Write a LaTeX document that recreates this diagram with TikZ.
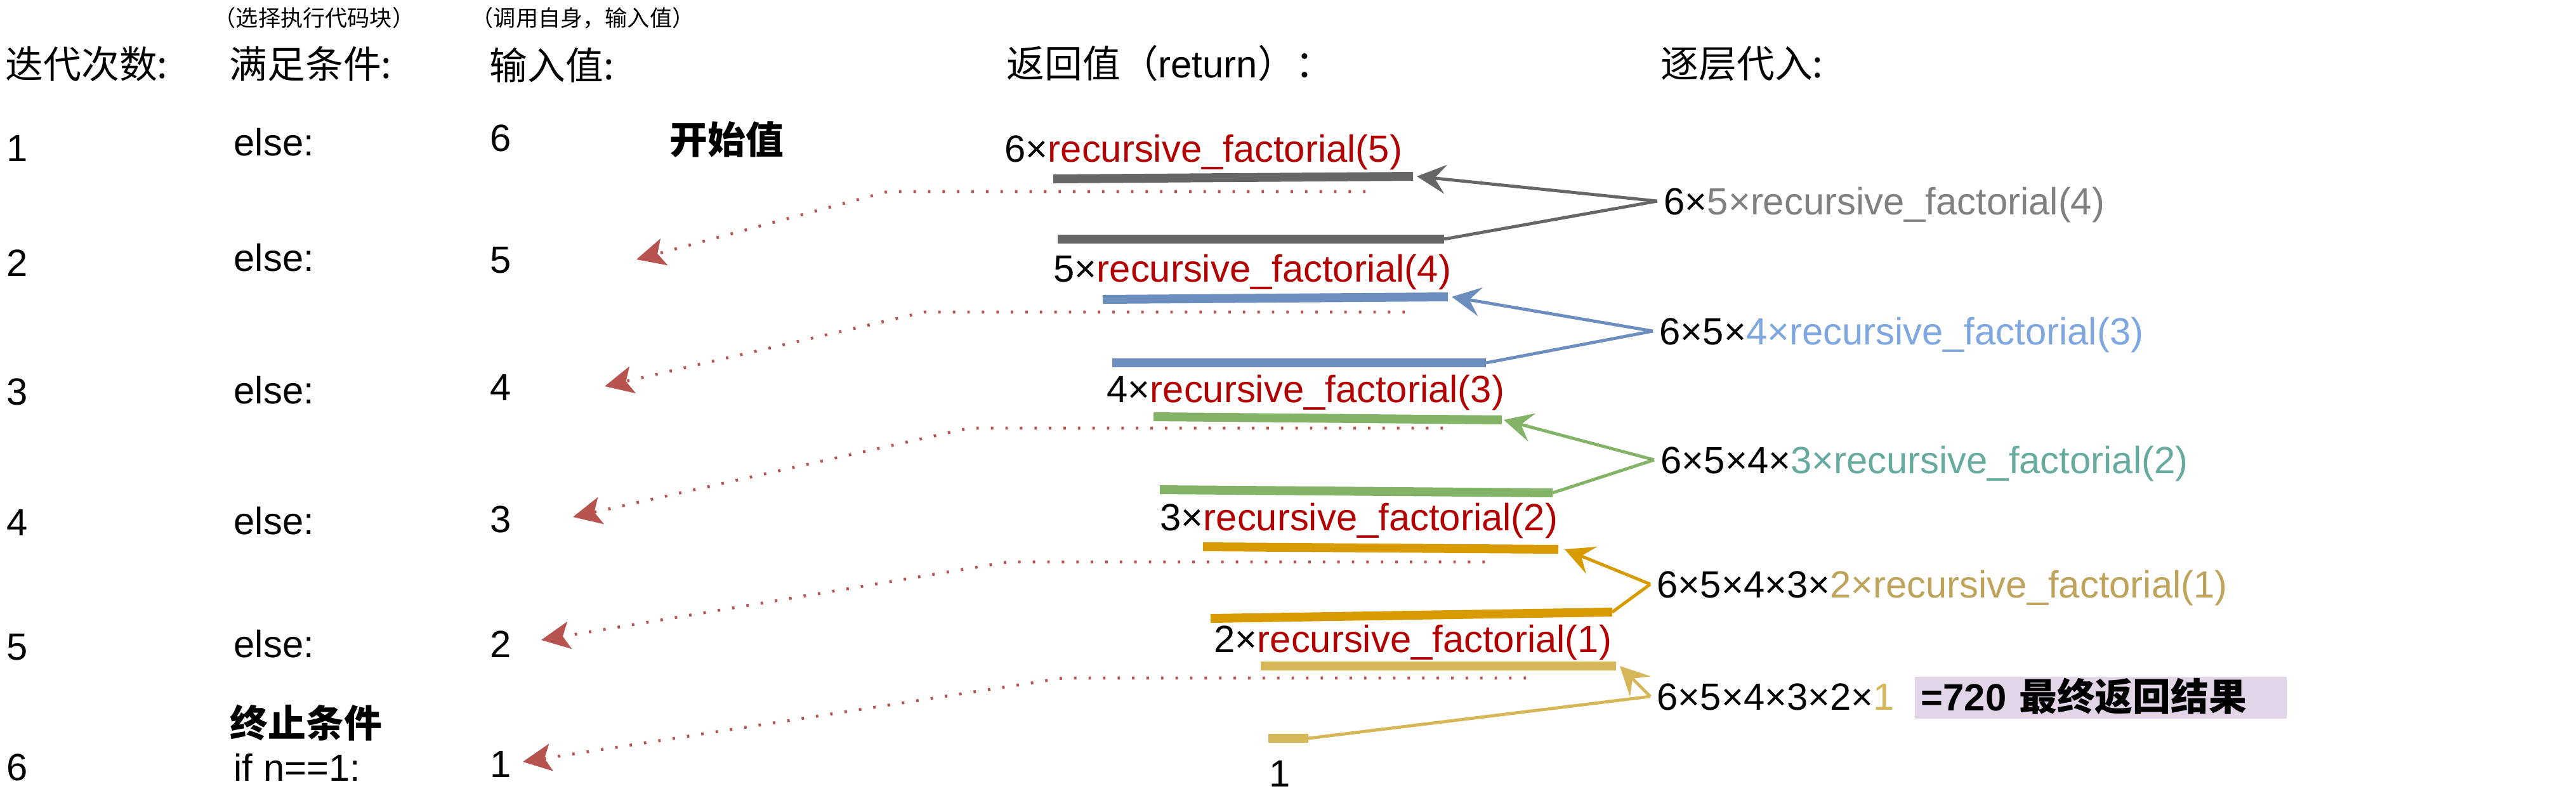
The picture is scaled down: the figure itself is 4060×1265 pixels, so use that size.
\documentclass[tikz,border=0pt]{standalone}
\usepackage{fontspec}
\setmainfont{Liberation Sans}
\newfontfamily\cjk{Noto Sans CJK SC}
\usetikzlibrary{arrows.meta, calc}
\definecolor{barGray}{HTML}{666666}
\definecolor{barBlue}{HTML}{6C8EBF}
\definecolor{barGreen}{HTML}{82B366}
\definecolor{barOrange}{HTML}{D79B00}
\definecolor{barYellow}{HTML}{D6B656}
\definecolor{callRed}{HTML}{B20000}
\definecolor{backRed}{HTML}{B85450}
\definecolor{txtGray}{HTML}{808080}
\definecolor{txtBlue}{HTML}{7EA6E0}
\definecolor{txtTeal}{HTML}{67AB9F}
\definecolor{txtGold}{HTML}{BFA35B}
\definecolor{boxPurple}{HTML}{E1D5E7}
\def\rf#1{\textcolor{callRed}{recursive\_factorial(#1)}}

\begin{document}
\begin{tikzpicture}[x=0.01cm, y=-0.01cm,
	every node/.style={font=\fontsize{17}{20}\selectfont, inner sep=0pt},
	txt/.style={anchor=base west},
	note/.style={anchor=base west, font=\cjk\fontsize{10}{12}\selectfont},
	sub/.style={anchor=west, inner xsep=0.1cm, inner ysep=0pt, text height=12.2pt, text depth=0pt},
	bar/.style={line width=0.14cm},
	link/.style={line width=1.4pt},
	tip/.style={-{Stealth[length=13pt, width=13pt, inset=5pt]}},
	back/.style={backRed, line width=1.3pt, dash pattern=on 1.1pt off 5.4pt, -{Stealth[length=12.8pt, width=12.3pt, inset=3pt]}}]
		\useasboundingbox (0,0) rectangle (4060,1265);

		\node[txt] (h1) at (8,123) {\cjk 迭代次数:};
		\node[txt] (h2) at (361,123) {\cjk 满足条件:};
		\node[txt] (h3) at (771,125) {\cjk 输入值:};
		\node[txt] (h4) at (1586,122) {{\cjk 返回值（}return{\cjk ）：}};
		\node[txt] (h5) at (2617,122) {\cjk 逐层代入:};
		\node[note] (m2) at (336,41) {（选择执行代码块）};
		\node[note] (m3) at (742,41) {（调用自身，输入值）};

		\node[txt] (k1) at (10,254) {1};
		\node[txt] (k2) at (10,435) {2};
		\node[txt] (k3) at (10,638) {3};
		\node[txt] (k4) at (10,844) {4};
		\node[txt] (k5) at (10,1040) {5};
		\node[txt] (k6) at (10,1230) {6};

		\node[txt] (c1) at (368,245) {else:};
		\node[txt] (c2) at (368,427) {else:};
		\node[txt] (c3) at (368,636) {else:};
		\node[txt] (c4) at (368,842) {else:};
		\node[txt] (c5) at (368,1036) {else:};
		\node[txt] (c6) at (368,1231) {if n==1:};
		\node[txt] (stop) at (362,1162) {\cjk\bfseries 终止条件};

		\node[txt] (v1) at (772,238) {6};
		\node[txt] (v2) at (772,430) {5};
		\node[txt] (v3) at (772,631) {4};
		\node[txt] (v4) at (772,839) {3};
		\node[txt] (v5) at (772,1036) {2};
		\node[txt] (v6) at (772,1225) {1};
		\node[txt] (start) at (1055,242) {\cjk\bfseries 开始值};

		\node[txt] (r1) at (1583,255) {6×\rf{5}};
		\node[txt] (r2) at (1660,444) {5×\rf{4}};
		\node[txt] (r3) at (1744,634) {4×\rf{3}};
		\node[txt] (r4) at (1828,836) {3×\rf{2}};
		\node[txt] (r5) at (1913,1028) {2×\rf{1}};
		\node[txt] (r6) at (2000,1240) {1};

		\node[sub] (s1) at (2612,317) {6×\textcolor{txtGray}{5×recursive\_factorial(4)}};
		\node[sub] (s2) at (2605,522) {6×5×\textcolor{txtBlue}{4×recursive\_factorial(3)}};
		\node[sub] (s3) at (2607,725) {6×5×4×\textcolor{txtTeal}{3×recursive\_factorial(2)}};
		\node[sub] (s4) at (2601,921) {6×5×4×3×\textcolor{txtGold}{2×recursive\_factorial(1)}};
		\node[sub] (s5) at (2601,1098) {6×5×4×3×2×\textcolor{barYellow}{1}};
		\node[anchor=west, fill=boxPurple, text width=5.66cm, inner xsep=0.1cm, minimum height=0.66cm, text height=14pt, text depth=2.6pt, font=\fontsize{17}{20}\selectfont\bfseries] (res) at (3017,1100) {=720 {\cjk 最终返回结果}};

		\coordinate (S1) at (2153,280);
		\coordinate (S2) at (2215,470);
		\coordinate (S3) at (2282,660);
		\coordinate (S4) at (2343,866);
		\coordinate (S5) at (2409,1050);
		\coordinate (T1) at (1003,409);
		\coordinate (T2) at (953,609);
		\coordinate (T3) at (903,815);
		\coordinate (T4) at (853,1009);
		\coordinate (T5) at (824,1201);
		\draw[back] (S1) |- (1399,302) -- (T1);
		\draw[back] (S2) |- (1457,492) -- (T2);
		\draw[back] (S3) |- (1527,675) -- (T3);
		\draw[back] (S4) |- (1588,886) -- (T4);
		\draw[back] (S5) |- (1675,1069) -- (T5);

		\draw[bar, barGray] (1660,282) coordinate (A1) -- (2227,278) coordinate (B1);
		\draw[bar, barGray] (1667,377) coordinate (A2) -- (2276,377) coordinate (B2);
		\draw[bar, barBlue] (1738,472) coordinate (A3) -- (2282,468) coordinate (B3);
		\draw[bar, barBlue] (1753,572) coordinate (A4) -- (2342,572) coordinate (B4);
		\draw[bar, barGreen] (1818,657) coordinate (A5) -- (2367,662) coordinate (B5);
		\draw[bar, barGreen] (1828,772) coordinate (A6) -- (2447,777) coordinate (B6);
		\draw[bar, barOrange] (1896,862) coordinate (A7) -- (2456,866) coordinate (B7);
		\draw[bar, barOrange] (1908,975) coordinate (A8) -- (2541,965) coordinate (B8);
		\draw[bar, barYellow] (1987,1050) coordinate (A9) -- (2547,1050) coordinate (B9);
		\draw[bar, barYellow] (1999,1164) coordinate (A10) -- (2062,1164) coordinate (B10);

		\draw[link, tip, barGray] (s1.west) -- ([xshift=0.06cm]B1);
		\draw[link, barGray] (s1.west) -- (B2);
		\draw[link, tip, barBlue] (s2.west) -- ([xshift=0.06cm]B3);
		\draw[link, barBlue] (s2.west) -- (B4);
		\draw[link, tip, barGreen] (s3.west) -- ([xshift=0.03cm]B5);
		\draw[link, barGreen] (s3.west) -- (B6);
		\draw[link, tip, barOrange] (s4.west) -- ([xshift=0.1cm]B7);
		\draw[link, barOrange] (s4.west) -- (B8);
		\draw[link, tip, barYellow] (s5.west) -- ([xshift=0.06cm]B9);
		\draw[link, barYellow] (s5.west) -- (B10);
	\end{tikzpicture}
\end{document}
